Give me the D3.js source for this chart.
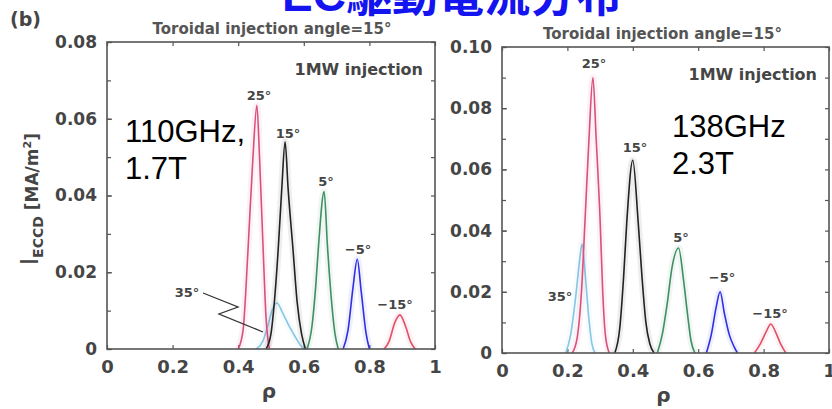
<!DOCTYPE html>
<html>
<head>
<meta charset="utf-8">
<script src="https://cdn.jsdelivr.net/npm/d3@7"></script>
<style>
  html, body { margin: 0; padding: 0; background: #fff; }
  svg { display: block; }
</style>
</head>
<body>
<svg id="chart" width="832" height="409"></svg>
<script>
// ---- axis ticks ----
const xTicks = [0, 0.2, 0.4, 0.6, 0.8, 1];
const xTickLabels = ["0", "0.2", "0.4", "0.6", "0.8", "1"];
const yTicks110 = [0, 0.02, 0.04, 0.06, 0.08];
const yTickLabels110 = ["0", "0.02", "0.04", "0.06", "0.08"];
const yTicks138 = [0, 0.02, 0.04, 0.06, 0.08, 0.10];
const yTickLabels138 = ["0", "0.02", "0.04", "0.06", "0.08", "0.10"];

// ---- injection angles ----
const angles = ["35°", "25°", "15°", "5°", "−5°", "−15°"];

// ---- 110 GHz, 1.7 T : ECCD profiles [rho, I_ECCD (MA/m^2)] ----
const g110_a35 = [[0.455,0],[0.475,0.002],[0.49,0.006],[0.505,0.0105],[0.518,0.012],[0.535,0.0095],[0.555,0.006],[0.575,0.003],[0.595,0.0005],[0.61,0]];
const g110_a25 = [[0.40,0],[0.415,0.005],[0.43,0.026],[0.445,0.05],[0.457,0.0635],[0.465,0.05],[0.476,0.026],[0.485,0.008],[0.495,0]];
const g110_a15 = [[0.485,0],[0.50,0.004],[0.51,0.012],[0.522,0.026],[0.533,0.042],[0.543,0.054],[0.552,0.042],[0.567,0.026],[0.58,0.012],[0.593,0.004],[0.605,0]];
const g110_a5 = [[0.61,0],[0.625,0.006],[0.636,0.016],[0.645,0.027],[0.662,0.041],[0.672,0.027],[0.683,0.014],[0.695,0.004],[0.705,0]];
const g110_am5 = [[0.72,0],[0.735,0.005],[0.75,0.016],[0.763,0.0234],[0.775,0.015],[0.79,0.004],[0.80,0]];
const g110_am15 = [[0.845,0],[0.86,0.002],[0.878,0.007],[0.893,0.0089],[0.91,0.006],[0.925,0.002],[0.94,0]];

// ---- 138 GHz, 2.3 T ----
const g138_a35 = [[0.195,0],[0.21,0.006],[0.225,0.018],[0.238,0.031],[0.245,0.0356],[0.255,0.025],[0.265,0.012],[0.275,0.003],[0.285,0]];
const g138_a25 = [[0.215,0],[0.23,0.005],[0.243,0.02],[0.254,0.0435],[0.266,0.07],[0.278,0.09],[0.288,0.07],[0.30,0.0435],[0.308,0.02],[0.316,0.006],[0.328,0]];
const g138_a15 = [[0.345,0],[0.36,0.008],[0.372,0.025],[0.382,0.0435],[0.40,0.063],[0.416,0.0435],[0.428,0.025],[0.44,0.01],[0.452,0.003],[0.465,0]];
const g138_a5 = [[0.475,0],[0.49,0.006],[0.505,0.016],[0.52,0.028],[0.54,0.0343],[0.555,0.024],[0.567,0.013],[0.578,0.004],[0.59,0]];
const g138_am5 = [[0.625,0],[0.64,0.006],[0.655,0.015],[0.667,0.02],[0.68,0.013],[0.695,0.006],[0.71,0.002],[0.72,0]];
const g138_am15 = [[0.772,0],[0.79,0.003],[0.808,0.007],[0.822,0.0095],[0.836,0.007],[0.852,0.003],[0.868,0]];

// line colour for each angle
const angleColors = {
  "35°": "#86c6e4",
  "25°": "#d9507f",
  "15°": "#222222",
  "5°": "#3f8f63",
  "−5°": "#2f2fe0",
  "−15°": "#e0506a"
};

const svg = d3.select("#chart");
const tickFont = "'DejaVu Sans', sans-serif";
const ink = "#454545";

// title
svg.append("text")
  .attr("x", 452).attr("y", 11)
  .attr("text-anchor", "middle")
  .attr("font-family", "Arial, 'Liberation Sans', 'Noto Sans CJK JP', sans-serif")
  .attr("font-weight", "bold")
  .attr("font-size", 46)
  .attr("fill", "#1414f0")
  .text("EC駆動電流分布");

svg.append("text")
  .attr("x", 10).attr("y", 26)
  .attr("font-family", tickFont).attr("font-weight", "bold")
  .attr("font-size", 19).attr("fill", ink)
  .text("(b)");

function drawPanel(cfg) {
  const x = d3.scaleLinear().domain([0, 1]).range([cfg.left, cfg.right]);
  const y = d3.scaleLinear().domain([0, cfg.ymax]).range([cfg.bottom, cfg.top]);
  const g = svg.append("g");

  // minor y ticks (every 0.01) on both sides, pointing inward
  const minor = d3.range(0, cfg.ymax + 1e-9, 0.01);
  g.append("g").attr("transform", `translate(${cfg.left},0)`)
    .call(d3.axisLeft(y).tickValues(minor).tickSize(-4).tickFormat(""))
    .call(s => s.select(".domain").remove())
    .call(s => s.selectAll("line").attr("stroke", "#555").attr("stroke-width", 1.2));
  g.append("g").attr("transform", `translate(${cfg.right},0)`)
    .call(d3.axisRight(y).tickValues(minor).tickSize(-4).tickFormat(""))
    .call(s => s.select(".domain").remove())
    .call(s => s.selectAll("line").attr("stroke", "#555").attr("stroke-width", 1.2));

  // labelled y axis
  g.append("g").attr("transform", `translate(${cfg.left},0)`)
    .call(d3.axisLeft(y).tickValues(cfg.yTicks).tickSize(-5).tickPadding(10)
      .tickFormat((d, i) => cfg.yLabels[i]))
    .call(s => s.select(".domain").remove())
    .call(s => s.selectAll("line").attr("stroke", "#555").attr("stroke-width", 1.2))
    .call(s => s.selectAll("text").attr("font-family", tickFont).attr("font-weight", "bold")
      .attr("font-size", 17).attr("fill", ink));

  // x axis, bottom and top ticks
  g.append("g").attr("transform", `translate(0,${cfg.bottom})`)
    .call(d3.axisBottom(x).tickValues(xTicks).tickSize(-4).tickPadding(11)
      .tickFormat((d, i) => xTickLabels[i]))
    .call(s => s.select(".domain").remove())
    .call(s => s.selectAll("line").attr("stroke", "#555").attr("stroke-width", 1.2))
    .call(s => s.selectAll("text").attr("font-family", tickFont).attr("font-weight", "bold")
      .attr("font-size", 18).attr("fill", ink));
  g.append("g").attr("transform", `translate(0,${cfg.top})`)
    .call(d3.axisTop(x).tickValues(xTicks).tickSize(-4).tickFormat(""))
    .call(s => s.select(".domain").remove())
    .call(s => s.selectAll("line").attr("stroke", "#555").attr("stroke-width", 1.2));

  // profiles
  const line = d3.line().x(d => x(d[0])).y(d => y(d[1])).curve(d3.curveMonotoneX);
  cfg.series.forEach((pts, i) => {
    const c = angleColors[angles[i]];
    g.append("path").attr("d", line(pts)).attr("fill", "none")
      .attr("stroke", c).attr("stroke-opacity", 0.08).attr("stroke-width", 7);
    g.append("path").attr("d", line(pts)).attr("fill", "none")
      .attr("stroke", c).attr("stroke-width", 1.6).attr("stroke-linejoin", "round");
  });

  // frame
  g.append("rect")
    .attr("x", cfg.left).attr("y", cfg.top)
    .attr("width", cfg.right - cfg.left).attr("height", cfg.bottom - cfg.top)
    .attr("fill", "none").attr("stroke", "#555").attr("stroke-width", 1.6);

  // peak labels
  cfg.peakLabels.forEach((p, i) => {
    g.append("text").attr("x", p[0]).attr("y", p[1])
      .attr("text-anchor", "middle")
      .attr("font-family", tickFont).attr("font-weight", "bold")
      .attr("font-size", 13).attr("fill", ink)
      .text(angles[i]);
  });

  // header and note
  g.append("text").attr("x", (cfg.left + cfg.right) / 2 + cfg.headDx).attr("y", cfg.top - 8)
    .attr("text-anchor", "middle")
    .attr("font-family", tickFont).attr("font-weight", "bold")
    .attr("font-size", 15).attr("fill", "#555")
    .text("Toroidal injection angle=15°");
  g.append("text").attr("x", cfg.right - 12).attr("y", cfg.top + 33)
    .attr("text-anchor", "end")
    .attr("font-family", tickFont).attr("font-weight", "bold")
    .attr("font-size", 16).attr("fill", ink)
    .text("1MW injection");

  // frequency / field annotation
  const t = g.append("text").attr("x", cfg.noteX).attr("y", cfg.noteY)
    .attr("font-family", "Arial, 'Liberation Sans', sans-serif")
    .attr("font-size", 31).attr("fill", "#000");
  t.append("tspan").attr("x", cfg.noteX).text(cfg.note[0]);
  t.append("tspan").attr("x", cfg.noteX).attr("dy", 37).text(cfg.note[1]);

  // rho label
  g.append("text").attr("x", (cfg.left + cfg.right) / 2 - 2).attr("y", cfg.bottom + 49)
    .attr("text-anchor", "middle")
    .attr("font-family", tickFont).attr("font-weight", "bold")
    .attr("font-size", 20).attr("fill", ink)
    .text("ρ");

  return { x, y, g };
}

const left = drawPanel({
  left: 107, right: 435, top: 42, bottom: 349, ymax: 0.08,
  yTicks: yTicks110, yLabels: yTickLabels110,
  series: [g110_a35, g110_a25, g110_a15, g110_a5, g110_am5, g110_am15],
  peakLabels: [[187, 297], [259, 100], [288, 138], [326, 186], [358, 254], [395, 309]],
  headDx: 1,
  note: ["110GHz,", "1.7T"], noteX: 125, noteY: 142
});

const right = drawPanel({
  left: 502, right: 829, top: 47, bottom: 353, ymax: 0.10,
  yTicks: yTicks138, yLabels: yTickLabels138,
  series: [g138_a35, g138_a25, g138_a15, g138_a5, g138_am5, g138_am15],
  peakLabels: [[560, 301], [594, 68], [635, 152], [681, 242], [722, 282], [770, 318]],
  headDx: -3,
  note: ["138GHz", "2.3T"], noteX: 672, noteY: 137
});

// pointer from the 35° label to its profile in the 110 GHz panel
left.g.append("path")
  .attr("d", d3.line()([[203, 293], [238, 307], [219, 314], [263, 332]]))
  .attr("fill", "none").attr("stroke", "#333").attr("stroke-width", 1.3);

// y-axis label
const yl = svg.append("text")
  .attr("transform", "translate(38,199) rotate(-90)")
  .attr("text-anchor", "middle")
  .attr("font-family", tickFont).attr("font-weight", "bold")
  .attr("fill", ink).attr("font-size", 17);
yl.append("tspan").attr("font-size", 24).attr("font-weight", "normal").text("I");
yl.append("tspan").attr("font-size", 14).attr("dy", 5).text("ECCD");
yl.append("tspan").attr("dy", -5).text(" [MA/m");
yl.append("tspan").attr("font-size", 11).attr("dy", -7).text("2");
yl.append("tspan").attr("dy", 7).text("]");
</script>
</body>
</html>
